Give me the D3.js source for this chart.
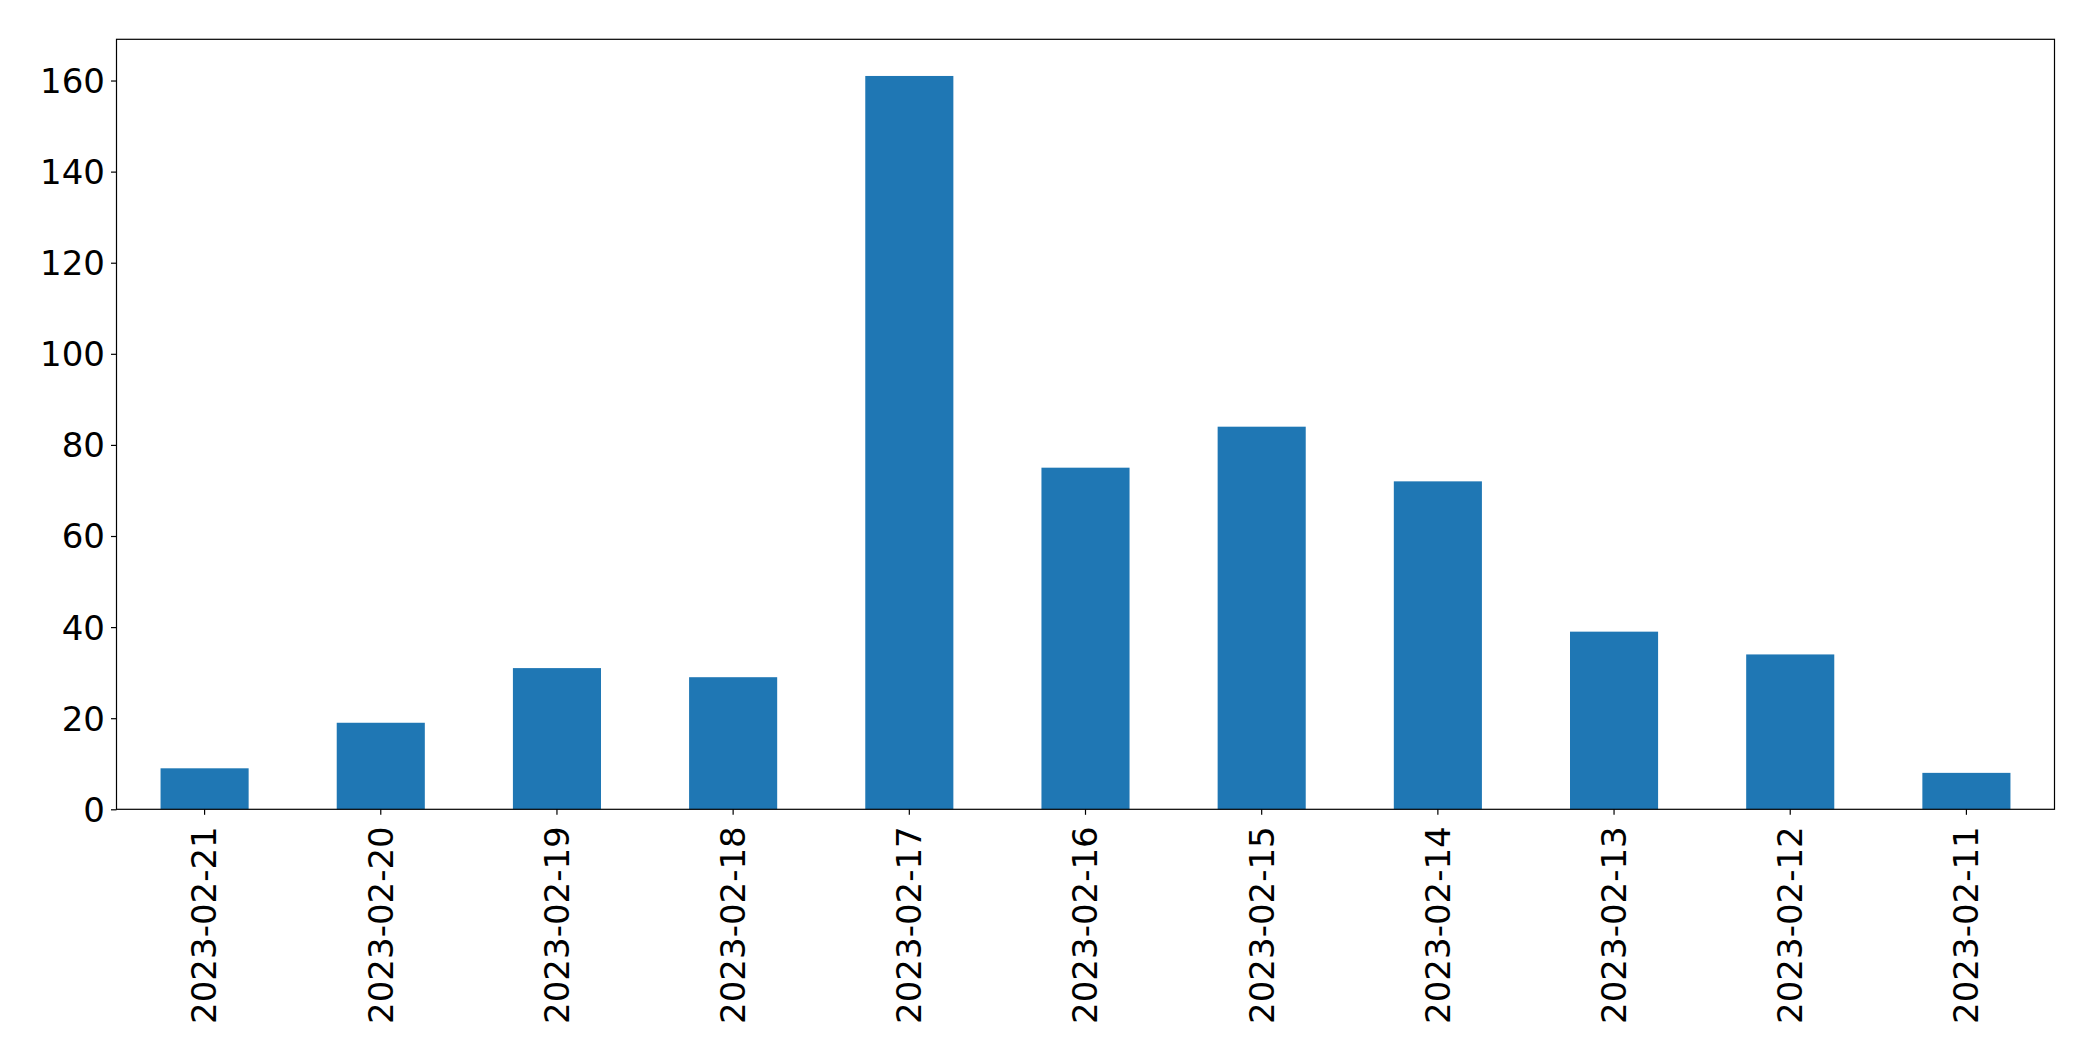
<!DOCTYPE html>
<html>
<head>
<meta charset="utf-8">
<script src="https://cdn.jsdelivr.net/npm/d3@7"></script>
<style>
  html, body { margin: 0; padding: 0; background: #fff; }
  svg { display: block; }
  text { font-family: "DejaVu Sans", sans-serif; fill: #000; }
</style>
</head>
<body>
<svg id="chart" width="2093" height="1061"></svg>
<script>
const categories = ["2023-02-21","2023-02-20","2023-02-19","2023-02-18","2023-02-17","2023-02-16","2023-02-15","2023-02-14","2023-02-13","2023-02-12","2023-02-11"];
const values = [9, 19, 31, 29, 161, 75, 84, 72, 39, 34, 8];
const yTicks = [0, 20, 40, 60, 80, 100, 120, 140, 160];

const svg = d3.select("#chart");
const plotLeft = 116.5, plotRight = 2054.5, plotTop = 39.3, plotBottom = 809.3;
const fontSize = 34;

const x = d3.scaleBand().domain(categories).range([plotLeft, plotRight]).paddingInner(0.5).paddingOuter(0.25);
const yMax = d3.max(values) * 1.05;
const y = d3.scaleLinear().domain([0, yMax]).range([plotBottom, plotTop]);

svg.append("g").selectAll("rect").data(values).join("rect")
  .attr("x", (d, i) => x(categories[i]))
  .attr("width", x.bandwidth())
  .attr("y", d => y(d))
  .attr("height", d => y(0) - y(d))
  .attr("fill", "#1f77b4");

// Y axis
const yAxis = d3.axisLeft(y).tickValues(yTicks).tickSize(5.5).tickPadding(6);
const gy = svg.append("g").attr("transform", `translate(${plotLeft},0)`).call(yAxis);
gy.select(".domain").remove();
gy.selectAll(".tick line").attr("stroke", "#000").attr("stroke-width", 1.2);
gy.selectAll(".tick text").attr("font-size", fontSize).attr("font-family", "DejaVu Sans").attr("dy", "0.35em");

// X axis
const xAxis = d3.axisBottom(x).tickSize(5.5).tickPadding(0);
const gx = svg.append("g").attr("transform", `translate(0,${plotBottom})`).call(xAxis);
gx.select(".domain").remove();
gx.selectAll(".tick line").attr("stroke", "#000").attr("stroke-width", 1.2);
gx.selectAll(".tick text")
  .attr("font-size", fontSize)
  .attr("font-family", "DejaVu Sans")
  .attr("text-anchor", "end")
  .attr("dy", "0.35em")
  .attr("transform", "translate(0,17) rotate(-90)")
  .attr("x", 0).attr("y", 0);

// Frame
svg.append("rect")
  .attr("x", plotLeft).attr("y", plotTop)
  .attr("width", plotRight - plotLeft).attr("height", plotBottom - plotTop)
  .attr("fill", "none").attr("stroke", "#000").attr("stroke-width", 1.2);
</script>
</body>
</html>
